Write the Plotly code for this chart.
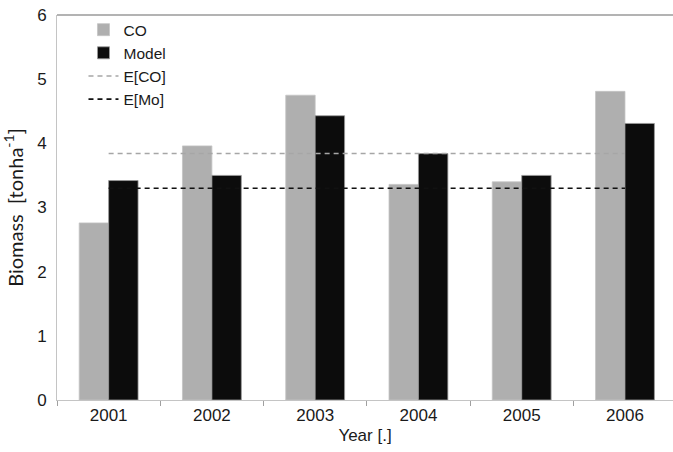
import plotly.graph_objects as go

years = ["2001", "2002", "2003", "2004", "2005", "2006"]
co_values = [2.76, 3.96, 4.75, 3.36, 3.40, 4.81]
model_values = [3.42, 3.50, 4.43, 3.84, 3.50, 4.31]
mean_co = 3.84
mean_model = 3.30
y_ticks = [0, 1, 2, 3, 4, 5, 6]

FONT = "Liberation Sans, Arial, sans-serif"

fig = go.Figure()
fig.add_trace(go.Bar(
    x=years, y=co_values, name="CO",
    marker=dict(color="#afafaf", line=dict(color="#c4c4c4", width=0.8)),
))
fig.add_trace(go.Bar(
    x=years, y=model_values, name="Model",
    marker=dict(color="#0c0c0c", line=dict(color="#9a9a9a", width=0.8)),
))
fig.add_trace(go.Scatter(
    x=[years[0], years[-1]], y=[mean_co, mean_co], name="E[CO]",
    mode="lines", line=dict(color="#a6a6a6", width=1.5, dash="5px,4px"),
))
fig.add_trace(go.Scatter(
    x=[years[0], years[-1]], y=[mean_model, mean_model], name="E[Mo]",
    mode="lines", line=dict(color="#111111", width=1.6, dash="5px,4px"),
))

fig.update_layout(
    width=673, height=452,
    margin=dict(l=57, r=0, t=15, b=52),
    paper_bgcolor="white", plot_bgcolor="white",
    barmode="group", bargap=0.43, bargroupgap=0,
    font=dict(family=FONT, color="#1a1a1a", size=17),
    legend=dict(
        x=0.043, y=1.005, xanchor="left", yanchor="top",
        bgcolor="rgba(0,0,0,0)", font=dict(size=15.5),
        itemwidth=30, tracegroupgap=0,
    ),
    showlegend=True,
    shapes=[dict(type="line", xref="paper", yref="paper", x0=0, x1=1, y0=1, y1=1,
                 line=dict(color="#9a9a9a", width=1.5))],
)
fig.update_xaxes(
    type="category", range=[-0.5, 5.465],
    showline=True, linecolor="#c4c4c4", linewidth=1,
    ticks="outside", tickson="boundaries", ticklen=5, tickcolor="#a0a0a0",
    showgrid=False, zeroline=False,
    title=dict(text="Year [.]", font=dict(size=17), standoff=4),
    tickfont=dict(size=17),
)
fig.update_yaxes(
    range=[0, 6], tickvals=y_ticks,
    showline=True, linecolor="#c4c4c4", linewidth=1,
    ticks="", showgrid=False, zeroline=False,
    ticklabelstandoff=6,
    title=dict(text="Biomass  [tonha<sup>-1</sup>]",
               font=dict(family="Lato, Carlito, sans-serif", size=20), standoff=8),
    tickfont=dict(size=17),
)

fig.write_html("out.html")
